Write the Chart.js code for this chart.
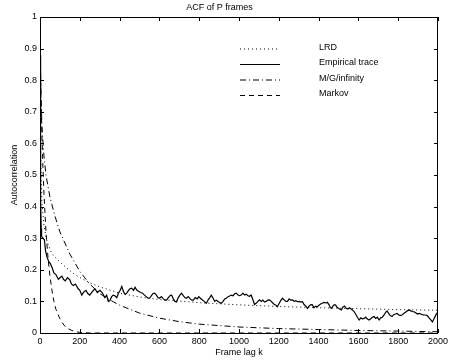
<!DOCTYPE html>
<html>
<head>
<meta charset="utf-8">
<script src="https://cdn.jsdelivr.net/npm/chart.js@4.4.1/dist/chart.umd.min.js"></script>
<style>
  html, body { margin: 0; padding: 0; background: #ffffff; }
  canvas { display: block; }
</style>
</head>
<body>
<canvas id="acf" width="451" height="360"></canvas>
<script>
// Lag axis ticks and value axis ticks
const lagTicks = [0, 200, 400, 600, 800, 1000, 1200, 1400, 1600, 1800, 2000];
const acfTicks = [0, 0.1, 0.2, 0.3, 0.4, 0.5, 0.6, 0.7, 0.8, 0.9, 1];

// Series names, in legend order
const seriesNames = ['LRD', 'Empirical trace', 'M/G/infinity', 'Markov'];

// Long-range-dependent model ACF
const lagLRD = [1, 3, 6, 10, 20, 35, 60, 100, 135, 175, 216, 260, 300, 400, 500, 600, 800, 1000, 1200, 1400, 1600, 1800, 2000];
const acfLRD = [0.8, 0.6, 0.48, 0.41, 0.34, 0.29, 0.25, 0.225, 0.205, 0.185, 0.17, 0.156, 0.146, 0.126, 0.114, 0.106, 0.096, 0.089, 0.084, 0.08, 0.077, 0.074, 0.072];

// Empirical ACF of the P-frame trace
const lagEmp = [0, 2, 4, 6, 8, 15, 22, 28, 35, 45, 52, 62, 70, 80, 92, 100, 110, 118, 127, 138, 150, 158, 167, 178, 192, 200, 210, 220, 231, 240, 250, 262, 276, 288, 301, 312, 326, 335, 343, 351, 360, 368, 376, 386, 394, 403, 411, 420, 428, 436, 445, 452, 461, 470, 478, 486, 495, 505, 516, 525, 534, 543, 551, 560, 568, 576, 585, 593, 601, 610, 620, 628, 636, 645, 653, 661, 670, 678, 686, 695, 703, 711, 720, 728, 736, 745, 755, 763, 771, 780, 790, 798, 806, 815, 825, 836, 845, 853, 861, 870, 878, 886, 895, 903, 911, 920, 928, 936, 945, 953, 961, 970, 978, 986, 995, 1003, 1011, 1020, 1028, 1036, 1045, 1053, 1061, 1070, 1078, 1086, 1095, 1103, 1112, 1120, 1128, 1136, 1145, 1153, 1162, 1170, 1178, 1186, 1193, 1203, 1211, 1219, 1228, 1236, 1244, 1252, 1260, 1269, 1277, 1286, 1294, 1302, 1310, 1319, 1327, 1336, 1344, 1352, 1361, 1369, 1377, 1386, 1394, 1402, 1410, 1419, 1427, 1436, 1444, 1452, 1458, 1464, 1472, 1478, 1485, 1492, 1500, 1507, 1514, 1522, 1530, 1539, 1547, 1555, 1562, 1570, 1578, 1586, 1595, 1604, 1612, 1620, 1629, 1637, 1645, 1654, 1662, 1670, 1679, 1687, 1695, 1704, 1712, 1720, 1729, 1737, 1744, 1752, 1760, 1769, 1777, 1786, 1794, 1802, 1810, 1819, 1828, 1837, 1846, 1855, 1863, 1872, 1880, 1888, 1896, 1905, 1913, 1921, 1930, 1938, 1946, 1955, 1965, 1972, 1980, 1990, 2000];
const acfEmp = [0.88, 0.6, 0.42, 0.33, 0.305, 0.3, 0.295, 0.26, 0.24, 0.225, 0.22, 0.205, 0.19, 0.185, 0.17, 0.175, 0.18, 0.17, 0.165, 0.175, 0.168, 0.155, 0.15, 0.155, 0.14, 0.135, 0.12, 0.13, 0.135, 0.125, 0.12, 0.13, 0.14, 0.128, 0.135, 0.128, 0.112, 0.12, 0.1, 0.102, 0.115, 0.12, 0.118, 0.112, 0.126, 0.135, 0.147, 0.13, 0.122, 0.126, 0.135, 0.14, 0.142, 0.135, 0.145, 0.136, 0.132, 0.128, 0.126, 0.12, 0.115, 0.11, 0.11, 0.118, 0.125, 0.126, 0.12, 0.112, 0.11, 0.115, 0.108, 0.104, 0.104, 0.112, 0.118, 0.12, 0.108, 0.1, 0.098, 0.112, 0.12, 0.126, 0.118, 0.112, 0.11, 0.115, 0.108, 0.104, 0.104, 0.112, 0.108, 0.115, 0.11, 0.105, 0.1, 0.094, 0.105, 0.112, 0.12, 0.11, 0.1, 0.104, 0.1, 0.096, 0.094, 0.1, 0.108, 0.11, 0.115, 0.117, 0.12, 0.118, 0.124, 0.126, 0.12, 0.118, 0.12, 0.126, 0.12, 0.123, 0.118, 0.116, 0.12, 0.105, 0.09, 0.094, 0.1, 0.105, 0.1, 0.104, 0.098, 0.1, 0.104, 0.105, 0.1, 0.095, 0.09, 0.088, 0.083, 0.095, 0.104, 0.11, 0.104, 0.1, 0.1, 0.108, 0.104, 0.105, 0.1, 0.102, 0.099, 0.1, 0.098, 0.099, 0.09, 0.085, 0.078, 0.085, 0.09, 0.089, 0.08, 0.085, 0.083, 0.088, 0.092, 0.094, 0.097, 0.095, 0.097, 0.09, 0.082, 0.078, 0.085, 0.089, 0.089, 0.082, 0.078, 0.075, 0.073, 0.082, 0.085, 0.078, 0.076, 0.08, 0.077, 0.073, 0.068, 0.06, 0.05, 0.041, 0.048, 0.045, 0.046, 0.05, 0.044, 0.041, 0.045, 0.05, 0.052, 0.046, 0.05, 0.041, 0.048, 0.05, 0.057, 0.065, 0.07, 0.062, 0.055, 0.052, 0.058, 0.06, 0.062, 0.058, 0.055, 0.057, 0.062, 0.066, 0.07, 0.073, 0.07, 0.068, 0.067, 0.064, 0.06, 0.062, 0.06, 0.058, 0.057, 0.057, 0.055, 0.048, 0.041, 0.035, 0.045, 0.058, 0.067];

// M/G/infinity model ACF
const lagMG = [1, 5, 10, 20, 30, 50, 75, 100, 150, 200, 250, 300, 350, 400, 500, 600, 700, 800, 1000, 1200, 1400, 1600, 1800, 2000];
const acfMG = [0.9, 0.75, 0.65, 0.56, 0.5, 0.43, 0.37, 0.32, 0.25, 0.195, 0.155, 0.125, 0.105, 0.088, 0.063, 0.047, 0.036, 0.028, 0.019, 0.014, 0.011, 0.008, 0.006, 0.004];

// Markov model ACF
const lagMarkov = [1, 5, 10, 15, 20, 30, 40, 50, 60, 70, 80, 100, 120, 140, 160, 180, 200, 250, 500, 1000, 1500, 2000];
const acfMarkov = [0.88, 0.74, 0.62, 0.52, 0.44, 0.32, 0.24, 0.18, 0.135, 0.1, 0.075, 0.045, 0.025, 0.014, 0.008, 0.004, 0.002, 0, 0, 0, 0, 0];

const toPoints = (xs, ys) => xs.map((x, i) => ({ x: x, y: ys[i] }));

const FONT = 'Liberation Sans, Arial, Helvetica, sans-serif';

const lineStyles = [
  { width: 1, dash: [1, 3] },        // dotted
  { width: 1.2, dash: [] },          // solid
  { width: 1, dash: [6, 3, 1, 3] },  // dash-dot
  { width: 1, dash: [5, 4] }         // dashed
];

const seriesData = [
  toPoints(lagLRD, acfLRD),
  toPoints(lagEmp, acfEmp),
  toPoints(lagMG, acfMG),
  toPoints(lagMarkov, acfMarkov)
];

const datasets = seriesNames.map((name, i) => ({
  label: name,
  data: seriesData[i],
  borderColor: '#000000',
  borderWidth: lineStyles[i].width,
  borderDash: lineStyles[i].dash,
  pointRadius: 0,
  tension: 0,
  fill: false
}));

// Axes box with inward ticks on all four sides
const boxPlugin = {
  id: 'boxTicks',
  afterDatasetsDraw(chart) {
    const { ctx, chartArea: a, scales } = chart;
    const len = 4;
    ctx.save();
    ctx.strokeStyle = '#000000';
    ctx.lineWidth = 1;
    ctx.setLineDash([]);
    ctx.beginPath();
    lagTicks.forEach(v => {
      const px = Math.round(scales.x.getPixelForValue(v)) + 0.5;
      ctx.moveTo(px, a.bottom); ctx.lineTo(px, a.bottom - len);
      ctx.moveTo(px, a.top); ctx.lineTo(px, a.top + len);
    });
    acfTicks.forEach(v => {
      const py = Math.round(scales.y.getPixelForValue(v)) + 0.5;
      ctx.moveTo(a.left, py); ctx.lineTo(a.left + len, py);
      ctx.moveTo(a.right, py); ctx.lineTo(a.right - len, py);
    });
    ctx.stroke();
    ctx.strokeRect(Math.round(a.left) + 0.5, Math.round(a.top) + 0.5,
                   Math.round(a.right - a.left) - 1, Math.round(a.bottom - a.top));
    ctx.restore();
  }
};

// Legend drawn inside the axes: line sample then label
const legendPlugin = {
  id: 'innerLegend',
  afterDatasetsDraw(chart) {
    const { ctx } = chart;
    const rows = [47.5, 63, 78.5, 94];
    ctx.save();
    ctx.fillStyle = '#000000';
    ctx.font = '9px ' + FONT;
    ctx.textBaseline = 'middle';
    ctx.textAlign = 'left';
    chart.data.datasets.forEach((ds, i) => {
      const y = rows[i];
      ctx.strokeStyle = '#000000';
      ctx.lineWidth = ds.borderWidth;
      ctx.setLineDash(ds.borderDash);
      ctx.beginPath();
      ctx.moveTo(240, y + 1.5);
      ctx.lineTo(280, y + 1.5);
      ctx.stroke();
      ctx.fillText(ds.label, 319, y);
    });
    ctx.restore();
  }
};

new Chart(document.getElementById('acf'), {
  type: 'line',
  data: { datasets: datasets },
  plugins: [boxPlugin, legendPlugin],
  options: {
    responsive: false,
    animation: false,
    events: [],
    layout: { padding: { top: 0, right: 12, left: 0, bottom: 0 } },
    plugins: {
      legend: { display: false },
      tooltip: { enabled: false },
      title: {
        display: true,
        text: 'ACF of P frames',
        color: '#000000',
        font: { family: FONT, size: 9, weight: 'normal' },
        padding: { top: 2.6, bottom: 3.6 }
      }
    },
    scales: {
      x: {
        type: 'linear',
        min: 0,
        max: 2000,
        afterBuildTicks(scale) { scale.ticks = lagTicks.map(v => ({ value: v })); },
        ticks: {
          color: '#000000',
          font: { family: FONT, size: 9 },
          padding: 3,
          maxRotation: 0,
          autoSkip: false,
          callback: v => String(v)
        },
        grid: { display: false, drawTicks: false },
        border: { display: false },
        title: {
          display: true,
          text: 'Frame lag k',
          color: '#000000',
          font: { family: FONT, size: 9 },
          padding: { top: 0, bottom: 2 }
        },
        afterFit(scale) { scale.height = 27; }
      },
      y: {
        type: 'linear',
        min: 0,
        max: 1,
        afterBuildTicks(scale) { scale.ticks = acfTicks.map(v => ({ value: v })); },
        ticks: {
          color: '#000000',
          font: { family: FONT, size: 9 },
          padding: 3,
          autoSkip: false,
          callback: v => String(+v.toFixed(1))
        },
        grid: { display: false, drawTicks: false },
        border: { display: false },
        title: {
          display: true,
          text: 'Autocorrelation',
          color: '#000000',
          font: { family: FONT, size: 9 },
          padding: { top: 9, bottom: 0 }
        },
        afterFit(scale) { scale.width = 40; }
      }
    }
  }
});
</script>
</body>
</html>
